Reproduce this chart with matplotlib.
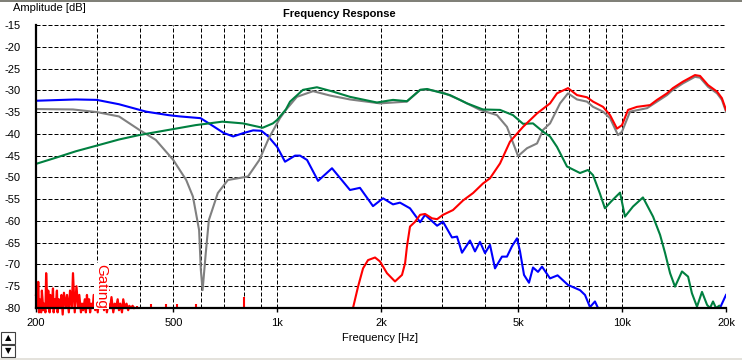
import matplotlib.pyplot as plt
from matplotlib.ticker import FixedLocator, FixedFormatter, NullFormatter
from matplotlib.patches import Rectangle

plt.rcParams['font.family'] = ['Liberation Sans', 'DejaVu Sans']
plt.rcParams['font.size'] = 8

# ---- data ----
blue_f = [200, 261, 300, 348, 417, 484, 523, 600, 640, 700, 746, 800, 852, 900, 940,
          1000, 1054, 1127, 1165, 1221, 1314, 1442, 1626, 1738, 1896, 2027, 2167, 2270,
          2427, 2597, 2684, 2908, 3026, 3212, 3322, 3434, 3622, 3745, 3872, 4004, 4140,
          4280, 4484, 4636, 4795, 4958, 5058, 5195, 5370, 5516, 5703, 5858, 6180, 6500,
          6966, 7548, 7804, 8069, 8340, 8513]
blue_db = [-32.4, -32.1, -32.2, -33.2, -34.9, -35.7, -36.0, -36.4, -37.8, -39.8, -40.6,
           -39.8, -39.2, -39.3, -40.5, -43.0, -46.4, -45.0, -45.0, -46.0, -50.8, -47.9,
           -52.9, -52.4, -56.6, -54.8, -56.2, -55.8, -57.1, -60.3, -58.6, -61.1, -60.2,
           -63.8, -63.6, -67.3, -64.5, -67.0, -64.8, -67.4, -65.5, -70.9, -68.2, -68.2,
           -65.8, -64.0, -67.0, -72.4, -74.2, -70.7, -71.7, -70.5, -73.2, -72.5, -74.7,
           -75.9, -77.0, -79.8, -78.5, -80.0]
blue_tail_f = [19210, 19600, 20000]
blue_tail_db = [-80.0, -78.5, -77.0]

gray_f = [200, 256, 300, 348, 397, 445, 500, 545, 570, 594, 601, 608, 621, 634, 673,
          720, 823, 888, 946, 1019, 1060, 1141, 1271, 1423, 1626, 1986, 2378, 2597, 2720,
          3026, 3388, 3872, 4338, 4636, 4993, 5300, 5667, 5898, 6180, 6607, 6966, 7398,
          7908, 8236, 8803, 9224, 9727, 9990, 10540, 11810, 12620, 13490, 14030, 15010,
          16260, 16820, 17740, 18840, 19460, 20000]
gray_db = [-34.3, -34.4, -35.0, -36.0, -39.0, -41.4, -46.0, -50.6, -54.4, -62.1, -71.3,
           -75.9, -67.4, -59.8, -53.6, -50.6, -49.8, -46.0, -41.0, -36.4, -34.5, -31.5,
           -30.2, -31.2, -32.1, -33.0, -32.6, -29.9, -29.8, -30.5, -32.2, -34.5, -35.7,
           -38.4, -45.1, -43.3, -42.2, -39.1, -37.6, -33.0, -30.7, -32.1, -32.6, -33.8,
           -34.9, -36.4, -40.3, -39.5, -34.9, -34.1, -32.6, -31.1, -29.9, -28.4, -26.9,
           -27.1, -29.2, -30.7, -32.2, -34.9]

green_f = [200, 228, 261, 300, 348, 397, 484, 580, 694, 796, 908, 972, 1000, 1060, 1090,
           1188, 1304, 1452, 1626, 1946, 2167, 2378, 2597, 2720, 3170, 3551, 3950, 4426,
           4826, 5160, 5516, 5898, 6180, 6474, 6920, 7548, 7960, 8236, 8620, 8914, 9300,
           9860, 10190, 10750, 11490, 12290, 12880, 13320, 13770, 14230, 14910, 15530,
           15930, 16480, 17040, 17630, 17980, 18340, 18710, 19100]
green_db = [-46.9, -45.5, -44.0, -42.7, -41.3, -40.3, -39.1, -38.0, -37.2, -37.6, -38.6,
            -37.6, -36.8, -34.4, -32.6, -29.9, -29.3, -30.3, -31.5, -32.8, -32.2, -32.5,
            -29.9, -29.7, -31.1, -33.0, -34.4, -34.5, -35.7, -37.7, -37.6, -39.5, -40.6,
            -43.0, -47.5, -49.0, -48.3, -49.5, -53.7, -57.1, -55.5, -53.5, -59.0, -56.7,
            -54.6, -59.0, -63.2, -67.4, -72.0, -75.1, -71.6, -72.8, -76.6, -79.7, -76.3,
            -79.3, -80.0, -78.5, -80.0, -79.5]

red_f = [1659, 1716, 1774, 1834, 1922, 1986, 2081, 2196, 2301, 2349, 2378, 2427, 2510,
         2597, 2684, 2811, 2908, 3026, 3234, 3458, 3697, 3950, 4140, 4426, 4730, 5160,
         5667, 6180, 6474, 6966, 7398, 7908, 8236, 8803, 9224, 9662, 9990, 10400, 11040,
         12050, 12620, 13490, 14030, 15010, 16260, 16820, 17740, 18840, 19460, 20000]
red_db = [-80.0, -75.1, -70.9, -69.0, -68.4, -69.3, -72.0, -73.9, -72.4, -69.7, -65.9,
          -61.3, -60.2, -58.6, -58.4, -59.4, -59.6, -58.6, -57.5, -55.3, -53.6, -51.4,
          -50.2, -46.8, -41.8, -38.4, -35.3, -33.0, -30.7, -29.5, -31.1, -31.6, -32.6,
          -33.8, -35.7, -38.8, -38.0, -34.5, -33.8, -33.4, -32.2, -30.7, -29.5, -28.0,
          -26.5, -26.7, -28.8, -30.3, -31.8, -34.5]

# gated noise floor at the low end
red_noise_f = [200, 201, 202, 203, 204, 205, 207, 208, 210, 211, 213, 214, 216, 217, 219,
               220, 222, 224, 225, 227, 228, 230, 231, 233, 235, 237, 239, 241, 244, 246,
               249, 251, 254, 256, 259, 262, 265, 267, 270, 272, 274, 277, 279, 281, 283,
               285, 287, 289, 292, 294, 297, 299, 302, 305, 308, 311, 315, 318, 321, 324,
               328, 331, 335, 338, 341, 345, 348, 351, 355, 358, 362, 366, 370, 373, 377,
               381, 385]
red_noise_db = [-77, -75, -80, -74, -81, -78, -81, -76, -80.5, -79, -81, -72, -80, -76, -81,
                -77, -80, -75.5, -81, -78, -80, -76, -81, -78, -80, -77, -81.5, -76.5, -80,
                -77, -81, -76, -80, -72, -81, -75, -80, -77, -81, -79, -80.5, -78, -81, -77,
                -80, -78, -81, -79, -80, -77, -80.5, -78, -81, -76, -80, -77, -80.5, -78,
                -81, -79, -80, -77.5, -81, -79, -80, -78, -80.5, -79, -81, -78, -80, -79,
                -80.5, -79.5, -80, -79.5, -80]
red_spike_f = [392, 420, 430, 476, 512, 582, 799]
red_spike_db = [-79.5, -79.7, -79.0, -79.0, -79.0, -79.0, -77.5]

x_ticks = [200, 500, 1000, 2000, 5000, 10000, 20000]
x_labels = ['200', '500', '1k', '2k', '5k', '10k', '20k']
x_minor = [300, 400, 600, 700, 800, 900, 3000, 4000, 6000, 7000, 8000, 9000]
y_ticks = list(range(-80, -14, 5))

fig = plt.figure(figsize=(7.42, 3.6), dpi=100)
ax = fig.add_axes([36/742, 52/360, 690/742, 283/360])
ax.set_xscale('log')
ax.set_xlim(200, 20000)
ax.set_ylim(-80, -15)

lw = 1.5
ax.plot(blue_f, blue_db, color='#0000ff', lw=lw)
ax.plot(blue_tail_f, blue_tail_db, color='#0000ff', lw=lw)
ax.plot(gray_f, gray_db, color='#808080', lw=lw)
ax.plot(green_f, green_db, color='#008040', lw=lw)
ax.plot(red_noise_f, red_noise_db, color='#ff0000', lw=1.6, clip_on=False)
ax.vlines(red_spike_f, -80.5, red_spike_db, color='#ff0000', lw=1.5)
ax.plot(red_f, red_db, color='#ff0000', lw=lw)

ax.xaxis.set_major_locator(FixedLocator(x_ticks))
ax.xaxis.set_major_formatter(FixedFormatter(x_labels))
ax.xaxis.set_minor_locator(FixedLocator(x_minor))
ax.xaxis.set_minor_formatter(NullFormatter())
ax.set_yticks(y_ticks)
ax.set_yticklabels([str(v) for v in y_ticks])

ax.tick_params(axis='x', which='major', length=3, width=1, pad=4, direction='out')
ax.tick_params(axis='x', which='minor', length=0)
ax.tick_params(axis='y', length=0, pad=11)

ax.grid(True, which='both', color='black', lw=0.72, ls=(0, (4, 2)))
ax.set_axisbelow(True)

for s in ['top', 'right']:
    ax.spines[s].set_visible(False)
for s in ['left', 'bottom']:
    ax.spines[s].set_linewidth(1.6)
    ax.spines[s].set_zorder(5)

ax.text(310, -75.0, 'Gating', color='#ff0000', fontsize=11, rotation=-90,
        ha='center', va='center', zorder=6,
        bbox=dict(facecolor='white', edgecolor='none', pad=0.5))

fig.text(13/742, 1 - 8/360, 'Amplitude [dB]', ha='left', va='center')
fig.text(339.5/742, 1 - 14/360, 'Frequency Response', ha='center', va='center',
         fontweight='bold')
fig.text(380/742, 1 - 338/360, 'Frequency [Hz]', ha='center', va='center')

# window frame bits
fig.patches.append(Rectangle((0, 1 - 2/360), 1, 2/360, transform=fig.transFigure,
                             facecolor='#808078', edgecolor='none'))
fig.patches.append(Rectangle((0, 0), 1, 2/360, transform=fig.transFigure,
                             facecolor='#e4e2dc', edgecolor='none'))
for y0, sym in [(16/360, '\u25b2'), (3/360, '\u25bc')]:
    fig.patches.append(Rectangle((1/742, y0), 14/742, 12/360, transform=fig.transFigure,
                                 facecolor='white', edgecolor='#404040', lw=0.8))
    fig.text(8/742, y0 + 6/360, sym, ha='center', va='center', fontsize=6,
             family='DejaVu Sans')

fig.savefig('out.png', dpi=100)
